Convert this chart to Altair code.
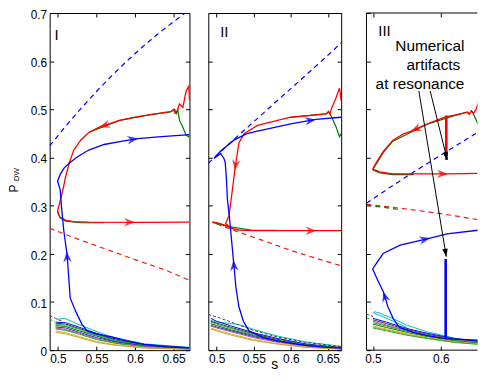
import altair as alt
import pandas as pd

FONT = "Liberation Sans"

# ---------------- data (s, P_DW) ----------------
# Panel I
I_BLUE_DASH = [(0.4893, 0.424), (0.51, 0.465), (0.53, 0.502), (0.55, 0.537), (0.57, 0.570),
               (0.59, 0.601), (0.61, 0.630), (0.63, 0.657), (0.65, 0.682), (0.67, 0.706)]
I_RED_DASH = [(0.4893, 0.253), (0.52, 0.234), (0.56, 0.211), (0.60, 0.188), (0.64, 0.166), (0.6706, 0.145)]
I_RED = [(0.6706, 0.518), (0.6697, 0.548), (0.6663, 0.538), (0.662, 0.504), (0.6576, 0.511), (0.655, 0.498),
         (0.652, 0.492), (0.650, 0.500), (0.647, 0.496), (0.62, 0.489), (0.60, 0.484), (0.58, 0.477),
         (0.5536, 0.463), (0.54, 0.452), (0.53, 0.437), (0.5206, 0.4155), (0.515, 0.39), (0.51, 0.36),
         (0.5065, 0.333), (0.503, 0.31), (0.4997, 0.29), (0.5003, 0.283), (0.503, 0.276), (0.51, 0.27),
         (0.52, 0.267), (0.54, 0.266), (0.60, 0.2655), (0.6706, 0.266)]
I_GREEN_UP = [(0.54, 0.452), (0.58, 0.477), (0.62, 0.489), (0.645, 0.494), (0.649, 0.497), (0.6515, 0.500),
              (0.6535, 0.491), (0.6555, 0.499), (0.6577, 0.477), (0.662, 0.463), (0.6663, 0.446),
              (0.6697, 0.443), (0.6706, 0.447)]
I_GREEN_LOW = [(0.4997, 0.288), (0.503, 0.274), (0.51, 0.268), (0.53, 0.2645), (0.56, 0.2645)]
I_BLUE = [(0.6706, 0.0045), (0.64, 0.007), (0.612, 0.012), (0.59, 0.019), (0.571, 0.027), (0.55, 0.034),
          (0.538, 0.040), (0.531, 0.054), (0.523, 0.081), (0.516, 0.108), (0.512, 0.197), (0.5075, 0.25),
          (0.5045, 0.30), (0.503, 0.333), (0.4996, 0.3506), (0.503, 0.365), (0.508, 0.378), (0.5145, 0.388),
          (0.525, 0.401), (0.54, 0.4155), (0.56, 0.427), (0.58, 0.433), (0.604, 0.4394), (0.63, 0.443),
          (0.6706, 0.4475)]
I_CL_CYAN = [(0.498, 0.064), (0.509, 0.066), (0.526, 0.054), (0.548, 0.040), (0.569, 0.028), (0.612, 0.013), (0.6706, 0.006)]
I_CL_BLUE = [(0.497, 0.058), (0.51, 0.057), (0.527, 0.048), (0.548, 0.036), (0.57, 0.025), (0.61, 0.012), (0.6706, 0.005)]
I_CL_GRAY = [(0.497, 0.056), (0.51, 0.054), (0.528, 0.045), (0.55, 0.033), (0.575, 0.021), (0.615, 0.010), (0.6706, 0.004)]
I_CL_GREEN = [(0.497, 0.054), (0.51, 0.052), (0.528, 0.043), (0.55, 0.031), (0.575, 0.020), (0.615, 0.009), (0.6706, 0.004)]
I_CL_DGREEN = [(0.497, 0.051), (0.51, 0.049), (0.528, 0.040), (0.55, 0.029), (0.575, 0.018), (0.615, 0.008), (0.6706, 0.003)]
I_CL_BLUE2 = [(0.497, 0.048), (0.51, 0.046), (0.528, 0.037), (0.55, 0.026), (0.575, 0.017), (0.615, 0.008), (0.6706, 0.003)]
I_CL_MAG = [(0.497, 0.046), (0.51, 0.043), (0.528, 0.035), (0.55, 0.024), (0.575, 0.015), (0.615, 0.007), (0.6706, 0.003)]
I_CL_GREEN2 = [(0.497, 0.044), (0.51, 0.041), (0.528, 0.033), (0.55, 0.022), (0.575, 0.014), (0.615, 0.006), (0.6706, 0.002)]
I_CL_YEL = [(0.497, 0.040), (0.51, 0.036), (0.528, 0.028), (0.55, 0.018), (0.575, 0.011), (0.615, 0.005), (0.6706, 0.002)]
I_CL_ORG = [(0.497, 0.037), (0.51, 0.034), (0.528, 0.026), (0.55, 0.016), (0.575, 0.010), (0.615, 0.004), (0.6706, 0.002)]
I_CL_DASH_A = [(0.4893, 0.072), (0.497, 0.066), (0.505, 0.060)]
I_CL_DASH_B = [(0.4893, 0.064), (0.496, 0.060)]

# Panel II
II_BLUE_DASH = [(0.4887, 0.388), (0.52, 0.433), (0.56, 0.488), (0.60, 0.543), (0.64, 0.598), (0.668, 0.638)]
II_RED_DASH = [(0.50, 0.262), (0.528, 0.246), (0.56, 0.229), (0.60, 0.207), (0.64, 0.188), (0.668, 0.175)]
II_RED = [(0.668, 0.518), (0.6657, 0.544), (0.6613, 0.525), (0.6546, 0.500), (0.653, 0.490), (0.651, 0.495),
          (0.6478, 0.4906), (0.60, 0.4836), (0.555, 0.4666), (0.537, 0.4496), (0.53, 0.43), (0.527, 0.40),
          (0.5245, 0.373), (0.5212, 0.333), (0.5166, 0.279), (0.512, 0.263), (0.52, 0.253), (0.53, 0.2495),
          (0.55, 0.248), (0.6347, 0.248), (0.668, 0.248)]
II_RED_LOW = [(0.4942, 0.2665), (0.50, 0.265), (0.51, 0.26), (0.52, 0.2535)]
II_GREEN_UP = [(0.60, 0.4836), (0.6478, 0.4906), (0.651, 0.496), (0.653, 0.490), (0.6546, 0.486),
               (0.6613, 0.463), (0.6657, 0.443), (0.668, 0.450)]
II_GREEN_LOW = [(0.4942, 0.265), (0.5145, 0.257), (0.546, 0.2495), (0.58, 0.2485)]
II_BLUE = [(0.668, 0.004), (0.64, 0.007), (0.61, 0.012), (0.58, 0.020), (0.56, 0.028), (0.5437, 0.040),
           (0.536, 0.060), (0.53, 0.090), (0.526, 0.130), (0.5226, 0.187), (0.52, 0.23), (0.517, 0.28),
           (0.5145, 0.313), (0.513, 0.36), (0.5115, 0.39), (0.5098, 0.398), (0.5054, 0.4085), (0.50, 0.402),
           (0.4964, 0.398), (0.505, 0.413), (0.5233, 0.436), (0.54, 0.449), (0.555, 0.455), (0.60, 0.470),
           (0.6338, 0.479), (0.668, 0.4836)]
II_CL_GRAYD = [(0.4887, 0.074), (0.50, 0.069), (0.52, 0.058), (0.55, 0.041), (0.58, 0.028), (0.62, 0.016), (0.668, 0.007)]
II_CL_CYAN = [(0.492, 0.062), (0.50, 0.058), (0.515, 0.056), (0.53, 0.053), (0.55, 0.043), (0.58, 0.030), (0.62, 0.017), (0.668, 0.008)]
II_CL_BLUE = [(0.492, 0.066), (0.50, 0.060), (0.52, 0.050), (0.55, 0.036), (0.58, 0.025), (0.62, 0.013), (0.668, 0.005)]
II_CL_GRAY = [(0.492, 0.060), (0.50, 0.056), (0.52, 0.047), (0.55, 0.034), (0.58, 0.023), (0.62, 0.012), (0.668, 0.005)]
II_CL_GREEN = [(0.492, 0.058), (0.50, 0.054), (0.52, 0.045), (0.55, 0.032), (0.58, 0.021), (0.62, 0.011), (0.668, 0.004)]
II_CL_DGREEN = [(0.492, 0.055), (0.50, 0.051), (0.52, 0.042), (0.55, 0.030), (0.58, 0.020), (0.62, 0.010), (0.668, 0.004)]
II_CL_BLUE2 = [(0.492, 0.052), (0.50, 0.048), (0.52, 0.040), (0.55, 0.028), (0.58, 0.018), (0.62, 0.009), (0.668, 0.003)]
II_CL_MAG = [(0.492, 0.050), (0.50, 0.046), (0.52, 0.038), (0.55, 0.026), (0.58, 0.017), (0.62, 0.008), (0.668, 0.003)]
II_CL_YEL = [(0.492, 0.046), (0.50, 0.042), (0.52, 0.033), (0.55, 0.022), (0.58, 0.014), (0.62, 0.006), (0.668, 0.002)]
II_CL_ORG = [(0.492, 0.044), (0.50, 0.040), (0.52, 0.031), (0.55, 0.020), (0.58, 0.013), (0.62, 0.006), (0.668, 0.002)]

# Panel III
III_BLUE_DASH = [(0.4904, 0.305), (0.522, 0.335), (0.56, 0.370), (0.60, 0.405), (0.64, 0.440), (0.6633, 0.460)]
III_RED_DASH = [(0.4904, 0.303), (0.55, 0.293), (0.60, 0.2835), (0.6633, 0.269)]
III_GREEN_DASH = [(0.4904, 0.301), (0.54, 0.292)]
III_RED_UP = [(0.4996, 0.376), (0.505, 0.390), (0.515, 0.412), (0.5294, 0.436), (0.545, 0.449), (0.5557, 0.4544),
              (0.58, 0.470), (0.608, 0.485), (0.62, 0.488), (0.639, 0.494), (0.642, 0.490), (0.645, 0.497),
              (0.648, 0.492), (0.652, 0.500), (0.658, 0.525), (0.6633, 0.545)]
III_GREEN_UP = [(0.4996, 0.374), (0.515, 0.410), (0.5294, 0.434), (0.58, 0.469), (0.62, 0.487), (0.639, 0.494),
                (0.642, 0.490), (0.645, 0.497), (0.648, 0.490), (0.652, 0.478), (0.658, 0.458), (0.6633, 0.440)]
III_RED_LOW = [(0.4996, 0.376), (0.51, 0.370), (0.529, 0.366), (0.61, 0.366), (0.6633, 0.367)]
III_GREEN_LOW = [(0.4996, 0.374), (0.51, 0.368), (0.529, 0.3645), (0.56, 0.3645)]
III_BLUE = [(0.6633, 0.020), (0.62, 0.023), (0.6071, 0.024), (0.58, 0.030), (0.56, 0.037), (0.539, 0.047),
            (0.53, 0.065), (0.522, 0.090), (0.5151, 0.122), (0.507, 0.145), (0.4996, 0.1685), (0.505, 0.180),
            (0.515, 0.2006), (0.54, 0.218), (0.5843, 0.2327), (0.609, 0.2415), (0.6633, 0.2503)]
III_RED_ART = [(0.608, 0.487), (0.608, 0.395)]
III_BLUE_ART = [(0.6071, 0.189), (0.6071, 0.023)]
III_CL_CYAN = [(0.55, 0.047), (0.53, 0.060), (0.51, 0.072), (0.501, 0.077), (0.502, 0.080), (0.51, 0.077),
               (0.53, 0.065), (0.55, 0.052), (0.58, 0.038), (0.62, 0.025), (0.6633, 0.016)]
III_CL_BLUE = [(0.50, 0.066), (0.52, 0.058), (0.55, 0.045), (0.58, 0.035), (0.62, 0.024), (0.6633, 0.017)]
III_CL_GRAY = [(0.50, 0.063), (0.52, 0.055), (0.55, 0.043), (0.58, 0.033), (0.62, 0.023), (0.6633, 0.016)]
III_CL_MAG = [(0.50, 0.060), (0.52, 0.052), (0.55, 0.041), (0.58, 0.031), (0.62, 0.021), (0.6633, 0.015)]
III_CL_GREEN = [(0.50, 0.057), (0.52, 0.050), (0.55, 0.039), (0.58, 0.030), (0.62, 0.020), (0.6633, 0.014)]
III_CL_DGREEN = [(0.50, 0.054), (0.52, 0.047), (0.55, 0.037), (0.58, 0.028), (0.62, 0.019), (0.6633, 0.013)]
III_CL_YEL = [(0.50, 0.050), (0.52, 0.044), (0.55, 0.034), (0.58, 0.026), (0.62, 0.018), (0.6633, 0.012)]
III_CL_ORG = [(0.50, 0.048), (0.52, 0.042), (0.55, 0.033), (0.58, 0.025), (0.62, 0.017), (0.6633, 0.012)]
III_CL_GREEN2 = [(0.50, 0.046), (0.52, 0.040), (0.55, 0.031), (0.58, 0.024), (0.62, 0.016), (0.6633, 0.011)]
III_CL_DASH_A = [(0.4904, 0.075), (0.50, 0.070)]
III_CL_DASH_B = [(0.4904, 0.067), (0.498, 0.064)]

# arrowheads on trajectories: panel, s, P, direction (deg), colour
ARROWHEADS = [
    ("I", 0.5536, 0.463, 162, "red"), ("I", 0.604, 0.4394, 351, "blue"),
    ("I", 0.600, 0.2655, 0, "red"), ("I", 0.5115, 0.205, 266, "blue"),
    ("II", 0.5245, 0.373, 98, "red"), ("II", 0.6338, 0.479, 350, "blue"),
    ("II", 0.6347, 0.248, 0, "red"), ("II", 0.5226, 0.187, 265, "blue"),
    ("III", 0.5557, 0.4544, 156, "red"), ("III", 0.6104, 0.366, 0, "red"),
    ("III", 0.5843, 0.2327, 347, "blue"), ("III", 0.5151, 0.122, 253, "blue"),
]
# annotation arrows in panel III: start s, start P, tip s, tip P, direction (deg)
ANNOT_ARROWS = [(0.5676, 0.538, 0.608, 0.194, 80.5), (0.5843, 0.538, 0.6094, 0.395, 75.9)]
ANNOT_TEXT = ["Numerical", "artifacts", "at resonance"]
PANEL_LABELS = {"I": "I", "II": "II", "III": "III"}

CYAN, BLUE, GRAY, GREEN, DGREEN = "#00bfbf", "#0000ff", "#404040", "#1faa1f", "#007a00"
BLUE2, MAG, YEL, ORG, RED = "#2a2ad0", "#c040c0", "#c8c800", "#d09a3a", "#ff0000"

CURVES = [
    ("I", "cl1", I_CL_CYAN, CYAN, "thin"), ("I", "cl2", I_CL_BLUE, BLUE, "thin"),
    ("I", "cl3", I_CL_GRAY, GRAY, "thin"), ("I", "cl4", I_CL_GREEN, GREEN, "thin"),
    ("I", "cl5", I_CL_DGREEN, DGREEN, "thin"), ("I", "cl6", I_CL_BLUE2, BLUE2, "thin"),
    ("I", "cl7", I_CL_MAG, MAG, "thin"), ("I", "cl8", I_CL_GREEN2, GREEN, "thin"),
    ("I", "cl9", I_CL_YEL, YEL, "thin"), ("I", "cl10", I_CL_ORG, ORG, "thin"),
    ("I", "cd1", I_CL_DASH_A, GRAY, "thindash"), ("I", "cd2", I_CL_DASH_B, GREEN, "thindash"),
    ("I", "bd", I_BLUE_DASH, BLUE, "dash"), ("I", "rd", I_RED_DASH, "#e8200c", "dash"),
    ("I", "gu", I_GREEN_UP, DGREEN, "green"), ("I", "gl", I_GREEN_LOW, DGREEN, "green"),
    ("I", "r", I_RED, RED, "main"), ("I", "b", I_BLUE, BLUE, "main"),

    ("II", "cl0", II_CL_GRAYD, GRAY, "thindash"),
    ("II", "cl1", II_CL_CYAN, CYAN, "thin"), ("II", "cl2", II_CL_BLUE, BLUE, "thin"),
    ("II", "cl3", II_CL_GRAY, GRAY, "thin"), ("II", "cl4", II_CL_GREEN, GREEN, "thin"),
    ("II", "cl5", II_CL_DGREEN, DGREEN, "thin"), ("II", "cl6", II_CL_BLUE2, BLUE2, "thin"),
    ("II", "cl7", II_CL_MAG, MAG, "thin"), ("II", "cl9", II_CL_YEL, YEL, "thin"),
    ("II", "cl10", II_CL_ORG, ORG, "thin"),
    ("II", "bd", II_BLUE_DASH, BLUE, "dash"), ("II", "rd", II_RED_DASH, "#e8200c", "dash"),
    ("II", "gu", II_GREEN_UP, DGREEN, "green"), ("II", "gl", II_GREEN_LOW, DGREEN, "green"),
    ("II", "r", II_RED, RED, "main"), ("II", "rl", II_RED_LOW, RED, "main"), ("II", "b", II_BLUE, BLUE, "main"),

    ("III", "cl1", III_CL_CYAN, CYAN, "thin"), ("III", "cl2", III_CL_BLUE, BLUE, "thin"),
    ("III", "cl3", III_CL_GRAY, GRAY, "thin"), ("III", "cl4", III_CL_MAG, MAG, "thin"),
    ("III", "cl5", III_CL_GREEN, GREEN, "thin"), ("III", "cl6", III_CL_DGREEN, DGREEN, "thin"),
    ("III", "cl7", III_CL_YEL, YEL, "thin"), ("III", "cl8", III_CL_ORG, ORG, "thin"),
    ("III", "cl9", III_CL_GREEN2, GREEN, "thin"),
    ("III", "cd1", III_CL_DASH_A, GRAY, "thindash"), ("III", "cd2", III_CL_DASH_B, GREEN, "thindash"),
    ("III", "gd", III_GREEN_DASH, DGREEN, "dash"),
    ("III", "bd", III_BLUE_DASH, BLUE, "dash"), ("III", "rd", III_RED_DASH, "#e8200c", "dash"),
    ("III", "gu", III_GREEN_UP, DGREEN, "green"), ("III", "gl", III_GREEN_LOW, DGREEN, "green"),
    ("III", "ru", III_RED_UP, RED, "main"), ("III", "rl", III_RED_LOW, RED, "main"),
    ("III", "b", III_BLUE, BLUE, "main"),
    ("III", "ra", III_RED_ART, RED, "thick"), ("III", "ba", III_BLUE_ART, BLUE, "thick"),
]

rows = []
for panel, name, pts, color, layer in CURVES:
    for i, (s, p) in enumerate(pts):
        rows.append(dict(panel=panel, curve=name, idx=i, s=s, P=p, color=color, layer=layer))
df = pd.DataFrame(rows)
heads = pd.DataFrame(ARROWHEADS, columns=["panel", "s", "P", "angle", "color"])
annot = pd.DataFrame(ANNOT_ARROWS, columns=["s", "P", "s2", "P2", "angle"])

YTICKS = [0, 0.1, 0.2, 0.3, 0.4, 0.5, 0.6, 0.7]
H = 340


def axis(orient, values, labels):
    kw = dict(orient=orient, values=values, offset=-4, tickSize=4, domain=False, grid=False,
              title=None, labels=labels, tickColor="black", tickWidth=1)
    if labels:
        kw.update(format="~g", labelFont=FONT, labelFontSize=12, labelColor="black",
                  labelFlush=False, labelOverlap=False, labelPadding=3)
        if orient == "left":
            kw.update(labelOffset=1.5)
    return alt.Axis(**kw)


def make_panel(pid, width, xdom, xticks, ylabels, right_axis):
    xs = alt.Scale(domain=xdom, nice=False, zero=False)
    ys = alt.Scale(domain=[0, 0.7], nice=False, zero=False)
    d = df[df.panel == pid]
    layers = []

    def line_layer(layer, sw, dash=None, ax=None, ay=None):
        sub = d[d.layer == layer]
        kw = dict(strokeWidth=sw, clip=True)
        if dash:
            kw["strokeDash"] = dash
        return alt.Chart(sub).mark_line(**kw).encode(
            x=alt.X("s:Q", scale=xs, axis=ax),
            y=alt.Y("P:Q", scale=ys, axis=ay),
            detail="curve:N", order="idx:Q",
            color=alt.Color("color:N", scale=None),
        )

    layers.append(line_layer("thin", 1.0, ax=axis("bottom", xticks, True),
                             ay=axis("left", YTICKS, ylabels)))
    layers.append(line_layer("thindash", 1.0, dash=[3, 2]))
    layers.append(line_layer("dash", 1.2, dash=[5, 4], ax=axis("top", xticks, False),
                             ay=axis("right", YTICKS, False) if right_axis else None))
    layers.append(line_layer("green", 1.2))
    layers.append(line_layer("main", 1.3))
    if (d.layer == "thick").any():
        layers.append(line_layer("thick", 2.6))

    h = heads[heads.panel == pid]
    layers.append(alt.Chart(h).mark_point(
        shape="M0,0L-2.2,-0.85L-1.5,0L-2.2,0.85Z", filled=True, size=100, opacity=0.75, strokeWidth=0,
        clip=True
    ).encode(x=alt.X("s:Q", scale=xs, axis=None), y=alt.Y("P:Q", scale=ys, axis=None),
             angle=alt.Angle("angle:Q", scale=None), color=alt.Color("color:N", scale=None)))

    layers.append(alt.Chart(pd.DataFrame({"t": [PANEL_LABELS[pid]]})).mark_text(
        align="left", baseline="middle", font=FONT, fontSize=15, color="black"
    ).encode(x=alt.value({"I": 5, "II": 12, "III": 12}[pid]),
             y=alt.value({"I": 22.5, "II": 19.5, "III": 18}[pid]), text="t:N"))

    if pid == "I":
        layers.append(alt.Chart(pd.DataFrame({"t": ["P"]})).mark_text(
            font=FONT, fontSize=12, angle=270, align="center", baseline="middle", color="black"
        ).encode(x=alt.value(-36), y=alt.value(177), text="t:N"))
        layers.append(alt.Chart(pd.DataFrame({"t": ["DW"]})).mark_text(
            font=FONT, fontSize=8, angle=270, align="center", baseline="middle", color="black"
        ).encode(x=alt.value(-32.8), y=alt.value(163), text="t:N"))
    if pid == "II":
        layers.append(alt.Chart(pd.DataFrame({"t": ["s"]})).mark_text(
            font=FONT, fontSize=14, align="center", baseline="middle", color="black"
        ).encode(x=alt.value(width / 2), y=alt.value(355), text="t:N"))
    if pid == "III":
        layers.append(alt.Chart(annot).mark_rule(color="black", strokeWidth=1).encode(
            x=alt.X("s:Q", scale=xs, axis=None), x2="s2:Q",
            y=alt.Y("P:Q", scale=ys, axis=None), y2="P2:Q"))
        layers.append(alt.Chart(annot).mark_point(
            shape="M0,0L-2,-0.7L-2,0.7Z", filled=True, size=64, opacity=1, color="black", strokeWidth=0
        ).encode(x=alt.X("s2:Q", scale=xs, axis=None), y=alt.Y("P2:Q", scale=ys, axis=None),
                 angle=alt.Angle("angle:Q", scale=None)))
        tx = pd.DataFrame({"t": ANNOT_TEXT})
        for i, (xx, yy) in enumerate([(64, 33.5), (67.5, 52), (54, 71.5)]):
            layers.append(alt.Chart(tx.iloc[[i]]).mark_text(
                font=FONT, fontSize=15.5, align="center", baseline="middle", color="black"
            ).encode(x=alt.value(xx), y=alt.value(yy), text="t:N"))
        one = pd.DataFrame({"k": [0]})
        layers.append(alt.Chart(one).mark_rule(color="black", strokeWidth=1).encode(
            x=alt.value(0), y=alt.value(0), y2=alt.value(H)))
        layers.append(alt.Chart(one).mark_rule(color="black", strokeWidth=1).encode(
            x=alt.value(0), x2=alt.value(width), y=alt.value(0)))
        layers.append(alt.Chart(one).mark_rule(color="black", strokeWidth=1).encode(
            x=alt.value(0), x2=alt.value(width), y=alt.value(H)))

    ch = alt.layer(*layers).resolve_axis(x="independent", y="independent").properties(width=width, height=H)
    if pid == "III":
        ch = ch.properties(view=alt.ViewBackground(stroke="transparent"))
    return ch


p1 = make_panel("I", 141, [0.4893, 0.6706], [0.5, 0.55, 0.6, 0.65], True, True)
p2 = make_panel("II", 134, [0.4887, 0.668], [0.5, 0.55, 0.6, 0.65], False, True)
p3 = make_panel("III", 112, [0.4904, 0.654], [0.5, 0.6], False, False)

inner = alt.hconcat(p1, p2, spacing=17)
chart = alt.hconcat(inner, p3, spacing=21.5).configure(
    padding={"left": -1, "top": -1.5, "right": 0, "bottom": 0}, background="white"
).configure_view(stroke="black", strokeWidth=1)

chart.save("out.html", embed_options={"renderer": "svg", "actions": False})
